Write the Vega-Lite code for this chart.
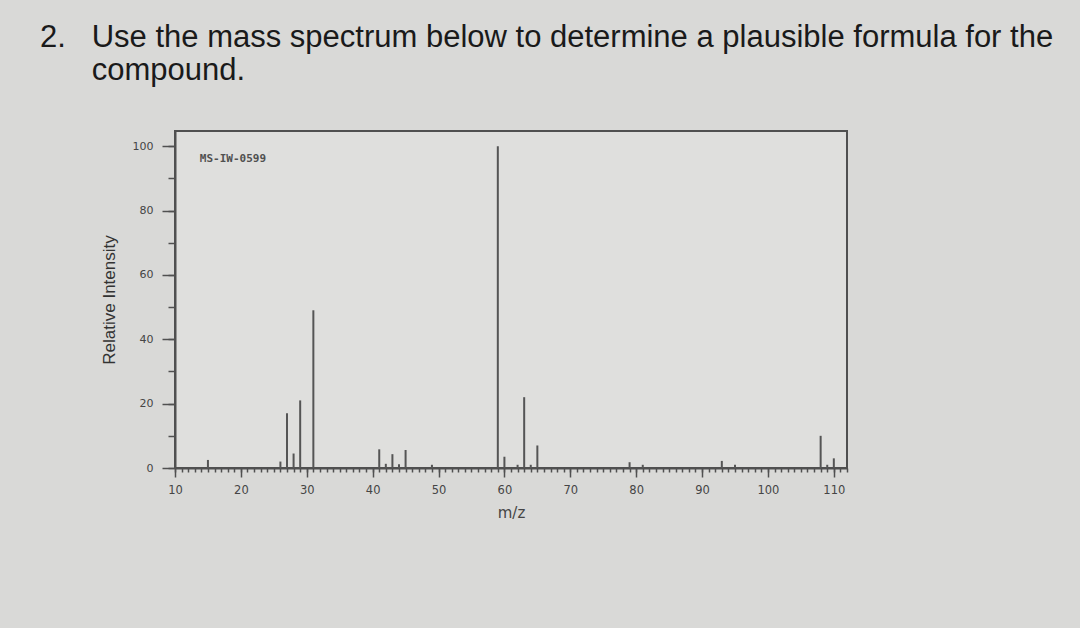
{
  "$schema": "https://vega.github.io/schema/vega-lite/v6.json",
  "autosize": {"type": "none"},
  "width": 672,
  "height": 337,
  "padding": {"left": 175, "top": 131, "right": 233, "bottom": 160},
  "background": "#d9d9d7",
  "title": {
    "text": ["2.\u00a0\u00a0\u00a0Use the mass spectrum below to determine a plausible formula for the", "\u200b\u00a0\u00a0\u00a0\u00a0\u00a0\u00a0compound."],
    "anchor": "start",
    "frame": "group",
    "dx": -135,
    "offset": 44,
    "font": "Liberation Sans",
    "fontSize": 31,
    "fontWeight": "normal",
    "color": "#1a1a1a",
    "lineHeight": 33
  },
  "config": {
    "view": {"stroke": "#505050", "strokeWidth": 2, "fill": "#dfdfdd"},
    "axis": {"grid": false}
  },
  "resolve": {"axis": {"x": "independent", "y": "independent"}},
  "data": {
    "values": [
      {"mz": 15, "intensity": 2.5},
      {"mz": 26, "intensity": 2},
      {"mz": 27, "intensity": 17},
      {"mz": 28, "intensity": 4.5},
      {"mz": 29, "intensity": 21},
      {"mz": 31, "intensity": 49},
      {"mz": 41, "intensity": 5.8},
      {"mz": 42, "intensity": 1.3},
      {"mz": 43, "intensity": 4.3},
      {"mz": 44, "intensity": 1.2},
      {"mz": 45, "intensity": 5.6},
      {"mz": 49, "intensity": 1},
      {"mz": 59, "intensity": 100},
      {"mz": 60, "intensity": 3.5},
      {"mz": 62, "intensity": 1},
      {"mz": 63, "intensity": 22},
      {"mz": 64, "intensity": 1},
      {"mz": 65, "intensity": 7},
      {"mz": 79, "intensity": 1.8},
      {"mz": 81, "intensity": 1},
      {"mz": 93, "intensity": 2.2},
      {"mz": 95, "intensity": 1},
      {"mz": 108, "intensity": 10},
      {"mz": 109, "intensity": 1},
      {"mz": 110, "intensity": 3}
    ]
  },
  "layer": [
    {
      "mark": {"type": "rule", "color": "#555555", "strokeWidth": 2},
      "encoding": {
        "x": {
          "field": "mz",
          "type": "quantitative",
          "scale": {"domain": [10, 112], "nice": false, "zero": false},
          "axis": {
            "orient": "bottom",
            "values": [10,11,12,13,14,15,16,17,18,19,20,21,22,23,24,25,26,27,28,29,30,31,32,33,34,35,36,37,38,39,40,41,42,43,44,45,46,47,48,49,50,51,52,53,54,55,56,57,58,59,60,61,62,63,64,65,66,67,68,69,70,71,72,73,74,75,76,77,78,79,80,81,82,83,84,85,86,87,88,89,90,91,92,93,94,95,96,97,98,99,100,101,102,103,104,105,106,107,108,109,110,111,112],
            "labels": false,
            "tickSize": 4,
            "tickColor": "#505050",
            "tickWidth": 1.5,
            "domainColor": "#505050",
            "domainWidth": 2,
            "title": null
          }
        },
        "y": {
          "field": "intensity",
          "type": "quantitative",
          "scale": {"domain": [0, 104.7], "nice": false},
          "axis": {
            "orient": "left",
            "values": [0, 10, 20, 30, 40, 50, 60, 70, 80, 90, 100],
            "labels": false,
            "tickSize": 7,
            "tickColor": "#505050",
            "tickWidth": 1.5,
            "domainColor": "#505050",
            "domainWidth": 2,
            "title": null
          }
        },
        "y2": {"datum": 0}
      }
    },
    {
      "data": {"values": [{"id": "MS-IW-0599"}]},
      "mark": {"type": "text", "font": "DejaVu Sans Mono", "fontWeight": "bold", "fontSize": 11, "color": "#505050"},
      "encoding": {
        "text": {"field": "id"},
        "x": {
          "datum": 18.8,
          "type": "quantitative",
          "axis": {
            "orient": "bottom",
            "values": [10, 20, 30, 40, 50, 60, 70, 80, 90, 100, 110],
            "tickSize": 9,
            "tickColor": "#505050",
            "tickWidth": 1.5,
            "domain": false,
            "labelFont": "DejaVu Sans",
            "labelFontSize": 11.5,
            "labelColor": "#454545",
            "labelPadding": 7,
            "labelFlush": false,
            "labelOverlap": false,
            "title": "m/z",
            "titleFont": "DejaVu Sans",
            "titleFontSize": 15,
            "titleFontWeight": "normal",
            "titleColor": "#454545",
            "titlePadding": 10
          }
        },
        "y": {
          "datum": 96,
          "type": "quantitative",
          "axis": {
            "orient": "left",
            "values": [0, 20, 40, 60, 80, 100],
            "tickSize": 13,
            "tickColor": "#505050",
            "tickWidth": 1.5,
            "domain": false,
            "labelFont": "DejaVu Sans",
            "labelFontSize": 11,
            "labelColor": "#454545",
            "labelPadding": 9,
            "labelFlush": false,
            "labelOverlap": false,
            "title": "Relative Intensity",
            "titleFont": "Liberation Sans",
            "titleFontSize": 17,
            "titleFontWeight": "normal",
            "titleColor": "#333333",
            "titlePadding": 14
          }
        }
      }
    }
  ]
}
